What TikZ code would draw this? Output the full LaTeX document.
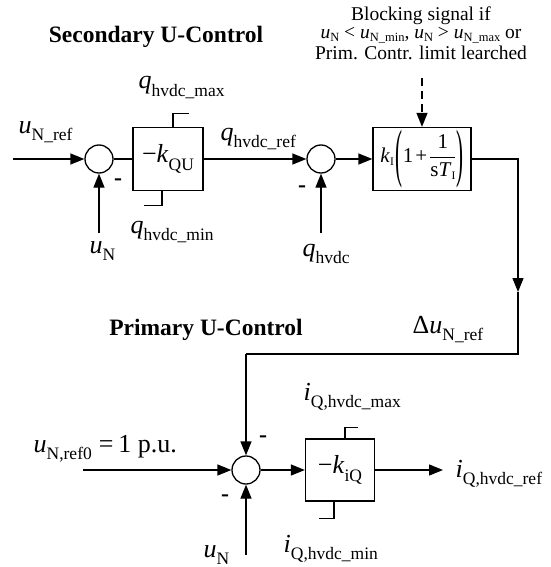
\documentclass[tikz,border=0pt]{standalone}
\usepackage{graphicx}
\usepackage{fontspec}
\setmainfont{Liberation Serif}
\usepackage{tikz}
\usetikzlibrary{arrows.meta,positioning}

\newcommand{\sig}[2]{\textit{#1}\raisebox{-7.5pt}{\fontsize{17.5}{18}\selectfont #2}}
\newcommand{\ssig}[2]{\textit{#1}\raisebox{-3.5pt}{\fontsize{12.5}{13}\selectfont #2}}
\newcommand{\pisub}[1]{\raisebox{-3pt}{\fontsize{11.5}{12}\selectfont #1}}
\newcommand{\bigparen}[1]{\raisebox{-12pt}{\scalebox{1}[3.05]{#1}}}

\begin{document}
\begin{tikzpicture}[x=1pt,y=-1pt,line width=1.3pt,>={Triangle[length=14pt,width=11pt]},
  sumnode/.style={circle,draw,minimum size=28pt,inner sep=0pt},
  gainbox/.style={draw,minimum width=70pt,minimum height=63pt,inner sep=0pt,font=\fontsize{26}{28}\selectfont},
  lbl/.style={anchor=base west,inner sep=0pt,font=\fontsize{26}{28}\selectfont},
  minus/.style={inner sep=0pt,font=\fontsize{24}{24}\selectfont\bfseries},
  ctitle/.style={anchor=base,inner sep=0pt,font=\fontsize{23.5}{26}\selectfont\bfseries}]
  \useasboundingbox (0,0) rectangle (550,567);
  % secondary U-control
  \node[ctitle] (sectitle) at (156,43) {Secondary U-Control};
  \node[sumnode] (sum1) at (99,159) {};
  \node[gainbox] (kqu) at (168,159) {−\sig{k}{QU}};
  \node[sumnode] (sum2) at (321,159) {};
  \node[gainbox,minimum width=98pt,font=\fontsize{21}{23}\selectfont] (pi) at (422,159)
    {\textit{k}\pisub{I}\hspace{2pt}\bigparen{(}1\hspace{2pt}+\hspace{2pt}$\displaystyle\frac{\mbox{1}}{\mbox{s\textit{T}\pisub{I}}}$\bigparen{)}};
  \coordinate (uref) at (13,159);
  \coordinate (un1) at (99,233);
  \coordinate (qh) at (321,233);
  \coordinate (blk) at (422,78);
  \node[inner sep=0pt,anchor=north,align=center,font=\fontsize{19.5}{18}\selectfont] (blocktxt) at (421,6)
    {Blocking signal if\\ \ssig{u}{N} < \ssig{u}{N\_min}, \ssig{u}{N} > \ssig{u}{N\_max} or\\[1pt] Prim. Contr. limit learched};
  \node[lbl] (urefl) at (18,133) {\sig{u}{N\_ref}};
  \node[lbl] (un1l) at (89,253) {\sig{u}{N}};
  \node[lbl] (qmaxl) at (138,89) {\sig{q}{hvdc\_max}};
  \node[lbl] (qrefl) at (220,140) {\sig{q}{hvdc\_ref}};
  \node[lbl] (qminl) at (130,233) {\sig{q}{hvdc\_min}};
  \node[lbl] (qhl) at (302,256) {\sig{q}{hvdc}};
  \node[minus] (m1) at (118,182) {-};
  \node[minus] (m2) at (302,189) {-};
  \draw[->] (uref) -- (sum1.west);
  \draw[->] (un1) -- (sum1.south);
  \draw (sum1.east) -- (kqu.west);
  \draw ([xshift=5pt]kqu.north) -- ++(0,-13) -- ++(16,0);
  \draw ([xshift=-6pt]kqu.south) -- ++(0,14) -- ++(-18,0);
  \draw[->] (kqu.east) -- (sum2.west);
  \draw[->] (qh) -- (sum2.south);
  \draw[->] (sum2.east) -- (pi.west);
  \draw[->,dash pattern=on 8pt off 5pt] (blk) -- (pi.north);
  % feedback to primary U-control
  \coordinate (dmid) at (518,292);
  \coordinate (fbcorner) at (518,354);
  \coordinate (fbleft) at (246,354);
  \draw[->] (pi.east) -| (dmid);
  \draw (dmid) -- (fbcorner) -- (fbleft);
  \node[lbl] (durefl) at (412,333) {Δ\sig{u}{N\_ref}};
  % primary U-control
  \node[ctitle] (primtitle) at (206,335) {Primary U-Control};
  \node[sumnode] (sum3) at (246,470) {};
  \node[gainbox,minimum width=69pt,minimum height=62pt] (kiq) at (340,470) {−\sig{k}{iQ}};
  \coordinate (uref0) at (83,470);
  \coordinate (un3) at (246,555);
  \coordinate (iref) at (443,470);
  \node[lbl] (uref0l) at (33,452) {\sig{u}{N,ref0}\hspace{7pt}=\hspace{5pt}1 p.u.};
  \node[lbl] (un3l) at (203,557) {\sig{u}{N}};
  \node[lbl] (imaxl) at (303,400) {\sig{i}{Q,hvdc\_max}};
  \node[lbl] (iminl) at (283,552) {\sig{i}{Q,hvdc\_min}};
  \node[lbl] (irefl) at (455,477) {\sig{i}{Q,hvdc\_ref}};
  \node[minus] (m3) at (263,439) {-};
  \node[minus] (m4) at (225,498) {-};
  \draw[->] (fbleft) -- (sum3.north);
  \draw[->] (uref0) -- (sum3.west);
  \draw[->] (un3) -- (sum3.south);
  \draw[->] (sum3.east) -- (kiq.west);
  \draw ([xshift=5pt]kiq.north) -- ++(0,-11) -- ++(13,0);
  \draw ([xshift=-6pt]kiq.south) -- ++(0,17) -- ++(-15,0);
  \draw[->] (kiq.east) -- (iref);
\end{tikzpicture}
\end{document}
